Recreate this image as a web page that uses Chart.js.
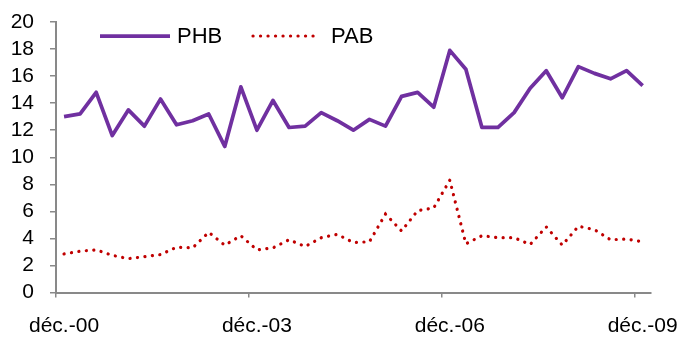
<!DOCTYPE html>
<html>
<head>
<meta charset="utf-8">
<script src="https://cdn.jsdelivr.net/npm/chart.js@4/dist/chart.umd.min.js"></script>
<style>
  html, body { margin: 0; padding: 0; background: #fff; }
  #wrap { width: 682px; height: 340px; position: relative; }
</style>
</head>
<body>
<div id="wrap"><canvas id="myChart"></canvas></div>
<script>
// quarterly observations, Dec 2000 -> Dec 2009
var quarters = [
    'déc.-00', 'mars-01', 'juin-01', 'sept.-01',
    'déc.-01', 'mars-02', 'juin-02', 'sept.-02',
    'déc.-02', 'mars-03', 'juin-03', 'sept.-03',
    'déc.-03', 'mars-04', 'juin-04', 'sept.-04',
    'déc.-04', 'mars-05', 'juin-05', 'sept.-05',
    'déc.-05', 'mars-06', 'juin-06', 'sept.-06',
    'déc.-06', 'mars-07', 'juin-07', 'sept.-07',
    'déc.-07', 'mars-08', 'juin-08', 'sept.-08',
    'déc.-08', 'mars-09', 'juin-09', 'sept.-09',
    'déc.-09'
];

var phb = [
    13.0, 13.2, 14.8, 11.6, 13.5, 12.3, 14.3, 12.4,
    12.7, 13.2, 10.8, 15.2, 12.0, 14.2, 12.2, 12.3,
    13.3, 12.7, 12.0, 12.8, 12.3, 14.5, 14.8, 13.7,
    17.9, 16.5, 12.2, 12.2, 13.3, 15.1, 16.4, 14.4,
    16.7, 16.2, 15.8, 16.4, 15.3
];

var pab = [
    2.85, 3.05, 3.15, 2.75, 2.5, 2.65, 2.8, 3.35,
    3.3, 4.45, 3.5, 4.2, 3.15, 3.3, 3.9, 3.4,
    4.05, 4.3, 3.7, 3.75, 5.8, 4.55, 6.05, 6.25,
    8.3, 3.6, 4.2, 4.05, 4.05, 3.55, 4.85, 3.5,
    4.9, 4.65, 3.9, 3.95, 3.75
];

var yTicks = { min: 0, max: 20, step: 2 };
var labelEvery = 12;

var axisGrey = '#898989';
var fontFamily = '"Liberation Sans", Arial, sans-serif';

// legend drawn inside the plot, top left
var insideLegend = {
    id: 'insideLegend',
    afterDraw: function(chart) {
        var ctx = chart.ctx,
            area = chart.chartArea,
            y = area.top + 14,
            items = [
                { x: area.left + 44, w: 70, text: area.left + 121 },
                { x: area.left + 197, w: 65, text: area.left + 275 }
            ];
        ctx.save();
        ctx.font = '22px ' + fontFamily;
        ctx.textBaseline = 'middle';
        ctx.fillStyle = '#000';
        chart.data.datasets.forEach(function(ds, i) {
            var it = items[i];
            ctx.beginPath();
            ctx.strokeStyle = ds.borderColor;
            ctx.lineWidth = ds.borderWidth;
            ctx.lineCap = ds.borderCapStyle || 'butt';
            ctx.setLineDash(ds.borderDash || []);
            ctx.moveTo(it.x, y);
            ctx.lineTo(it.x + it.w, y);
            ctx.stroke();
            ctx.setLineDash([]);
            ctx.fillText(ds.label, it.text, y + 1);
        });
        ctx.restore();
    }
};

window.onload = function() {
    var ctx = document.getElementById('myChart').getContext('2d');
    window.myLine = new Chart(ctx, {
        type: 'line',
        data: {
            labels: quarters,
            datasets: [
                {
                    label: 'PHB',
                    data: phb,
                    borderColor: '#7030A0',
                    borderWidth: 3.75,
                    borderJoinStyle: 'round',
                    pointRadius: 0,
                    tension: 0,
                    fill: false
                },
                {
                    label: 'PAB',
                    data: pab,
                    borderColor: '#C00000',
                    borderWidth: 3.2,
                    borderDash: [0.1, 7.4],
                    borderCapStyle: 'round',
                    pointRadius: 0,
                    tension: 0,
                    fill: false
                }
            ]
        },
        options: {
            responsive: true,
            maintainAspectRatio: false,
            animation: false,
            events: [],
            layout: { padding: { left: 10.5, top: 22, right: 31.3, bottom: 5.5 } },
            plugins: {
                legend: { display: false },
                tooltip: { enabled: false }
            },
            scales: {
                x: {
                    type: 'category',
                    offset: true,
                    grid: {
                        offset: true,
                        drawOnChartArea: false,
                        tickLength: 5,
                        lineWidth: 1.5,
                        color: axisGrey,
                        tickColor: function(c) {
                            return c.index % labelEvery === 0 ? axisGrey : 'rgba(0,0,0,0)';
                        }
                    },
                    border: { color: axisGrey, width: 2 },
                    ticks: {
                        autoSkip: false,
                        maxRotation: 0,
                        padding: 16,
                        color: '#000',
                        font: { family: fontFamily, size: 21 },
                        callback: function(v, i) {
                            return i % labelEvery === 0 ? quarters[i] : '';
                        }
                    },
                    afterFit: function(scale) {
                        scale.height = 42;
                        scale.paddingLeft = 0;
                        scale.paddingRight = 0;
                    }
                },
                y: {
                    min: yTicks.min,
                    max: yTicks.max,
                    grid: {
                        drawOnChartArea: false,
                        tickLength: 6,
                        lineWidth: 1.5,
                        color: axisGrey
                    },
                    border: { color: axisGrey, width: 2 },
                    ticks: {
                        autoSkip: false,
                        stepSize: yTicks.step,
                        padding: 16,
                        color: '#000',
                        font: { family: fontFamily, size: 21 }
                    },
                    afterFit: function(scale) {
                        scale.width = 45.5;
                        scale.paddingTop = 0;
                        scale.paddingBottom = 0;
                    }
                }
            }
        },
        plugins: [insideLegend]
    });
};
</script>
</body>
</html>
